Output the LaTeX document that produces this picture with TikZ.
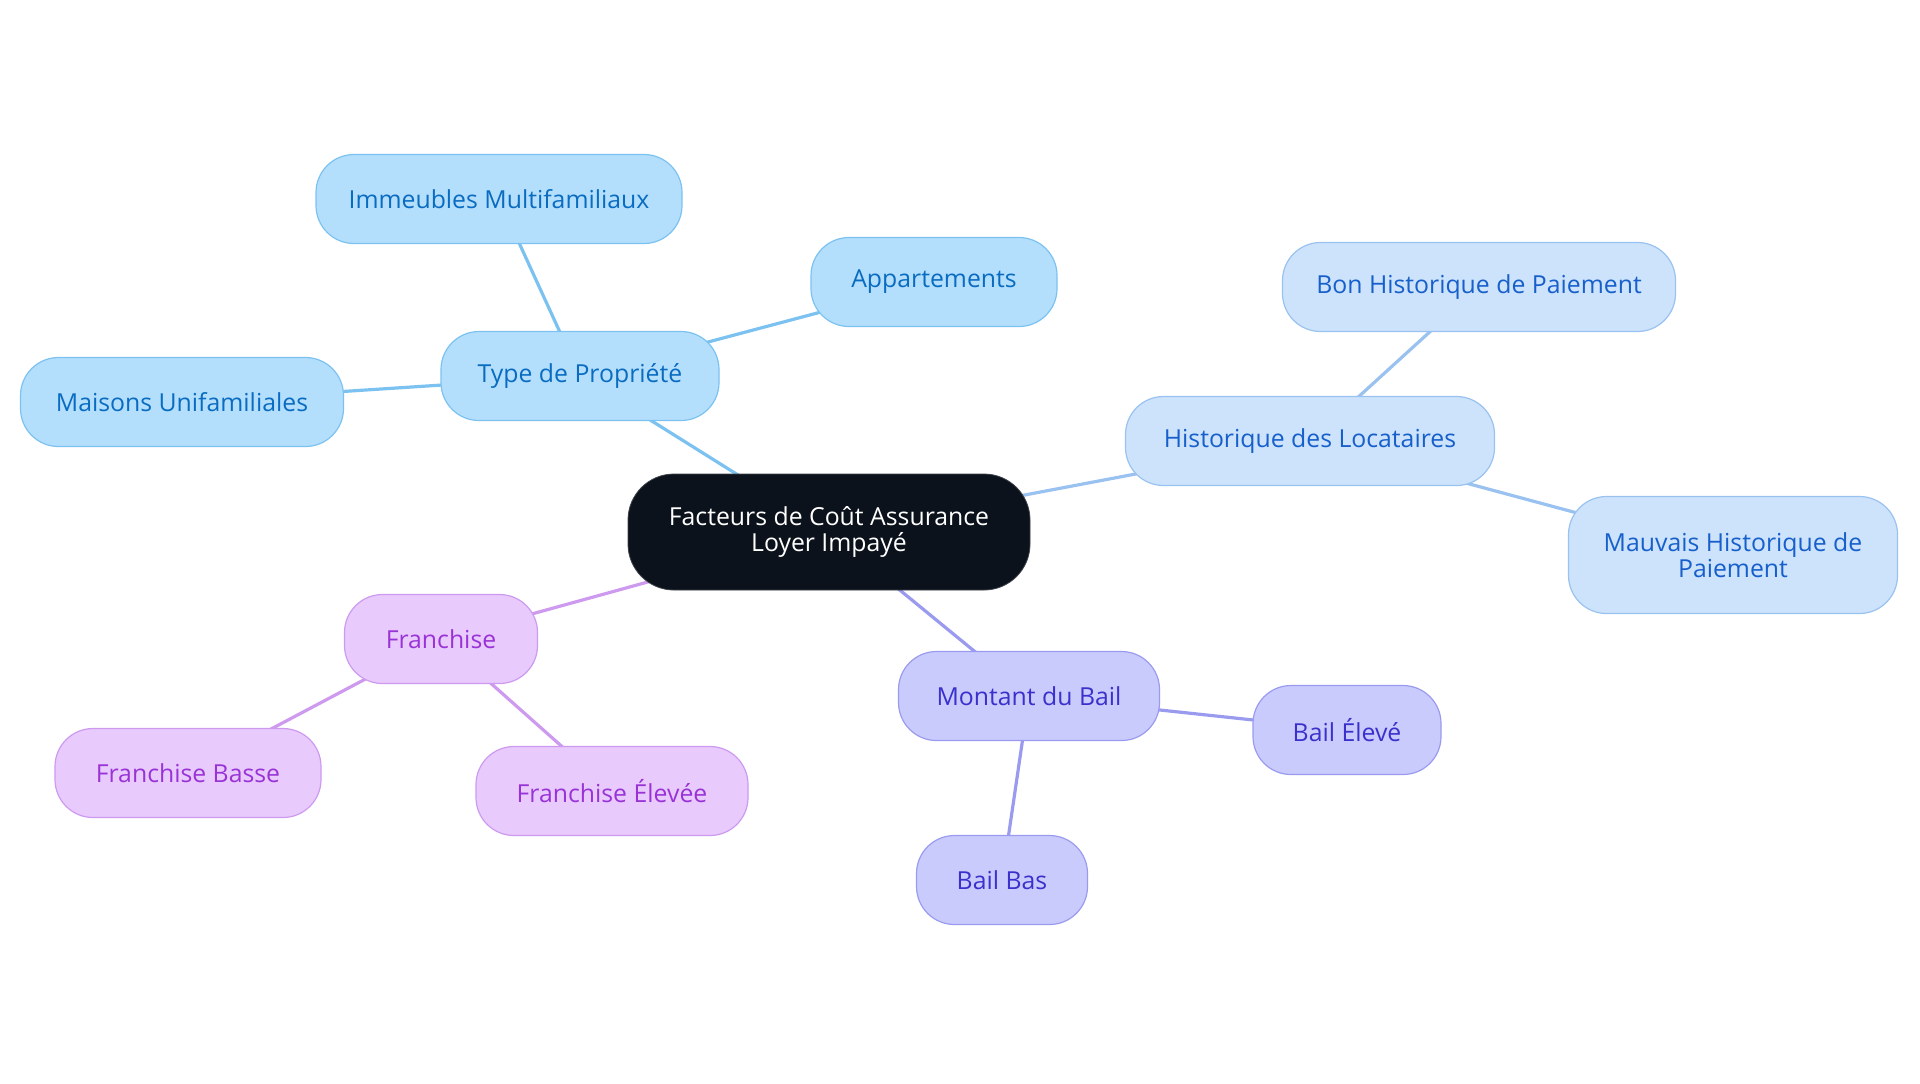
\documentclass[tikz,border=0pt]{standalone}
\usepackage{fontspec}
\setmainfont{Open Sans}
\usetikzlibrary{shapes,arrows,backgrounds}
\definecolor{rootfill}{HTML}{0C121B}
\definecolor{propfill}{HTML}{B3DFFD}
\definecolor{propdraw}{HTML}{7CC2F0}
\definecolor{proptext}{HTML}{0A6CC0}
\definecolor{histfill}{HTML}{CCE3FB}
\definecolor{histdraw}{HTML}{9AC2F0}
\definecolor{histtext}{HTML}{175FCB}
\definecolor{bailfill}{HTML}{CACBFD}
\definecolor{baildraw}{HTML}{9A9BEF}
\definecolor{bailtext}{HTML}{3A30CC}
\definecolor{franfill}{HTML}{E8CAFD}
\definecolor{frandraw}{HTML}{CD9AF0}
\definecolor{frantext}{HTML}{9A33D6}
\tikzstyle{root} = [rectangle, draw=rootfill!80!white, fill=rootfill, text=white,
align=center, rounded corners=23pt, minimum width=201pt, minimum height=58pt]
\tikzstyle{block} = [rectangle, draw, line width=0.6pt, align=center,
rounded corners=19pt, minimum height=44.5pt]
\tikzstyle{prop} = [block, draw=propdraw, fill=propfill, text=proptext]
\tikzstyle{hist} = [block, draw=histdraw, fill=histfill, text=histtext]
\tikzstyle{bail} = [block, draw=baildraw, fill=bailfill, text=bailtext]
\tikzstyle{fran} = [block, draw=frandraw, fill=franfill, text=frantext]
\tikzstyle{line} = [draw, line width=1.6pt]

\begin{document}
\begin{tikzpicture}[x=0.5pt, y=-0.5pt, font=\fontsize{12.4}{13}\selectfont]
\useasboundingbox (0,0) rectangle (1920,1083);

% Place nodes
\node [root] (root) at (829,532) {Facteurs de Coût Assurance\\Loyer Impayé};
\node [prop, minimum width=139pt] (type) at (580,376) {Type de Propriété};
\node [prop, minimum width=183pt] (immeubles) at (499,199) {Immeubles Multifamiliaux};
\node [prop, minimum width=123pt] (appart) at (934,282) {Appartements};
\node [prop, minimum width=161.5pt] (maisons) at (182,402) {Maisons Unifamiliales};
\node [hist, minimum width=184.5pt] (histo) at (1310,441) {Historique des Locataires};
\node [hist, minimum width=196.5pt] (bon) at (1479,287) {Bon Historique de Paiement};
\node [hist, minimum width=164.5pt, minimum height=58.5pt] (mauvais) at (1733,555) {Mauvais Historique de\\Paiement};
\node [fran, minimum width=96.5pt] (franchise) at (441,639) {Franchise};
\node [fran, minimum width=133pt] (basse) at (188,773) {Franchise Basse};
\node [fran, minimum width=136pt] (elevee) at (612,791) {Franchise Élevée};
\node [bail, minimum width=130.5pt] (montant) at (1029,696) {Montant du Bail};
\node [bail, minimum width=94pt] (bailhaut) at (1347,730) {Bail Élevé};
\node [bail, minimum width=85.5pt] (bailbas) at (1002,880) {Bail Bas};

% Draw edges
\begin{scope}[on background layer]
\path [line, propdraw] (root.center) -- (type.center);
\path [line, propdraw] (type.center) -- (immeubles.center);
\path [line, propdraw] (type.center) -- (appart.center);
\path [line, propdraw] (type.center) -- (maisons.center);
\path [line, histdraw] (root.center) -- (histo.center);
\path [line, histdraw] (histo.center) -- (bon.center);
\path [line, histdraw] (histo.center) -- (mauvais.center);
\path [line, frandraw] (root.center) -- (franchise.center);
\path [line, frandraw] (franchise.center) -- (basse.center);
\path [line, frandraw] (franchise.center) -- (elevee.center);
\path [line, baildraw] (root.center) -- (montant.center);
\path [line, baildraw] (montant.center) -- (bailhaut.center);
\path [line, baildraw] (montant.center) -- (bailbas.center);
\end{scope}
\end{tikzpicture}
\end{document}
